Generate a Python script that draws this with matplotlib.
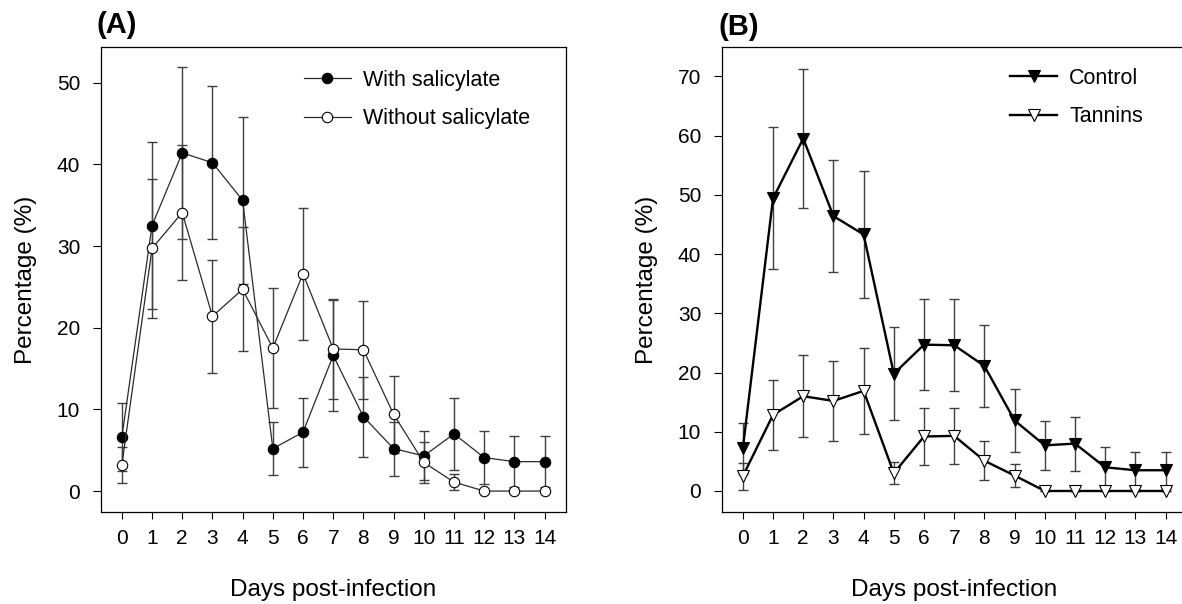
import matplotlib
matplotlib.use("Agg")
import matplotlib.pyplot as plt

plt.rcParams['font.family'] = ['Liberation Sans', 'DejaVu Sans']

days = list(range(15))
day_labels = [str(d) for d in days]

with_sal = [6.6, 32.5, 41.4, 40.2, 35.6, 5.2, 7.2, 16.6, 9.1, 5.2, 4.3, 7.0, 4.1, 3.6, 3.6]
with_sal_err = [4.2, 10.2, 10.5, 9.4, 10.2, 3.2, 4.2, 6.8, 4.9, 3.3, 3.0, 4.4, 3.2, 3.1, 3.1]
without_sal = [3.2, 29.7, 34.1, 21.4, 24.7, 17.5, 26.6, 17.4, 17.3, 9.4, 3.5, 1.1, 0, 0, 0]
without_sal_err = [2.2, 8.5, 8.3, 6.9, 7.6, 7.3, 8.1, 6.1, 6.0, 4.7, 2.5, 1.0, 0, 0, 0]

control = [7.2, 49.4, 59.5, 46.4, 43.3, 19.8, 24.7, 24.6, 21.1, 11.9, 7.7, 8.0, 4.0, 3.5, 3.5]
control_err = [4.3, 12.0, 11.7, 9.45, 10.65, 7.8, 7.7, 7.75, 6.95, 5.35, 4.1, 4.55, 3.35, 3.1, 3.1]
tannins = [2.5, 12.85, 16.0, 15.2, 16.9, 3.0, 9.2, 9.3, 5.1, 2.6, 0, 0, 0, 0, 0]
tannins_err = [2.3, 5.95, 6.9, 6.75, 7.25, 1.9, 4.8, 4.75, 3.3, 2.0, 0, 0, 0, 0, 0]

W, H = 1182, 604
fig = plt.figure(figsize=(W / 100, H / 100), dpi=100)

ax_w = 465 / W
ax_h = 465.6 / H
ax_b = (H - 512.3) / H
axA = fig.add_axes([100.7 / W, ax_b, ax_w, ax_h])
axB = fig.add_axes([721.7 / W, ax_b, ax_w, ax_h])

TICK_FS = 15
LABEL_FS = 17.5
LEG_FS = 15.5
err_kw = dict(ecolor='#404040', elinewidth=1.0, capsize=3.3, capthick=1.0)


def style(ax, ylim, yticks):
    ax.set_xlim(-0.7, 14.7)
    ax.set_ylim(*ylim)
    ax.set_xticks(days)
    ax.set_xticklabels(day_labels)
    ax.set_yticks(yticks)
    ax.tick_params(axis='x', direction='out', length=5.2, width=0.8, pad=7, labelsize=TICK_FS)
    ax.tick_params(axis='y', direction='out', length=5.8, width=0.8, pad=9, labelsize=TICK_FS)
    for s in ax.spines.values():
        s.set_linewidth(0.9)
    ax.set_xlabel('Days post-infection', fontsize=LABEL_FS, labelpad=22)
    ax.set_ylabel('Percentage (%)', fontsize=LABEL_FS, labelpad=14)


# Panel A
axA.errorbar(days, with_sal, yerr=with_sal_err, fmt='none', zorder=2, **err_kw)
axA.errorbar(days, without_sal, yerr=without_sal_err, fmt='none', zorder=2, **err_kw)
axA.plot(days, with_sal, color='#2a2a2a', lw=0.9, marker='o', ms=7.5,
         mfc='black', mec='black', mew=0.8, label='With salicylate', zorder=3)
axA.plot(days, without_sal, color='#2a2a2a', lw=0.9, marker='o', ms=7.5,
         mfc='white', mec='black', mew=0.8, label='Without salicylate', zorder=4)
style(axA, (-2.6, 54.4), [0, 10, 20, 30, 40, 50])
legA = axA.legend(loc='upper left', bbox_to_anchor=(303.5 / W, 1 - 70 / H),
                  bbox_transform=fig.transFigure, frameon=False, fontsize=LEG_FS,
                  borderpad=0, borderaxespad=0, handlelength=2.2, handletextpad=0.55,
                  labelspacing=0.81, numpoints=1)

# Panel B
axB.errorbar(days, control, yerr=control_err, fmt='none', zorder=2, **err_kw)
axB.errorbar(days, tannins, yerr=tannins_err, fmt='none', zorder=2, **err_kw)
axB.plot(days, control, color='black', lw=1.7, marker='v', ms=8,
         mfc='black', mec='black', mew=0.8, label='Control', zorder=3)
axB.plot(days, tannins, color='black', lw=1.7, marker='v', ms=8,
         mfc='white', mec='black', mew=0.8, label='Tannins', zorder=4)
style(axB, (-3.6, 75), [0, 10, 20, 30, 40, 50, 60, 70])
legB = axB.legend(loc='upper left', bbox_to_anchor=(1010 / W, 1 - 68 / H),
                  bbox_transform=fig.transFigure, frameon=False, fontsize=LEG_FS,
                  borderpad=0, borderaxespad=0, handlelength=2.2, handletextpad=0.55,
                  labelspacing=0.81, numpoints=1)

fig.text(97 / W, 1 - 25 / H, '(A)', fontsize=21, fontweight='bold', ha='left', va='center')
fig.text(719 / W, 1 - 27 / H, '(B)', fontsize=21, fontweight='bold', ha='left', va='center')

fig.savefig('out.png', dpi=100)
